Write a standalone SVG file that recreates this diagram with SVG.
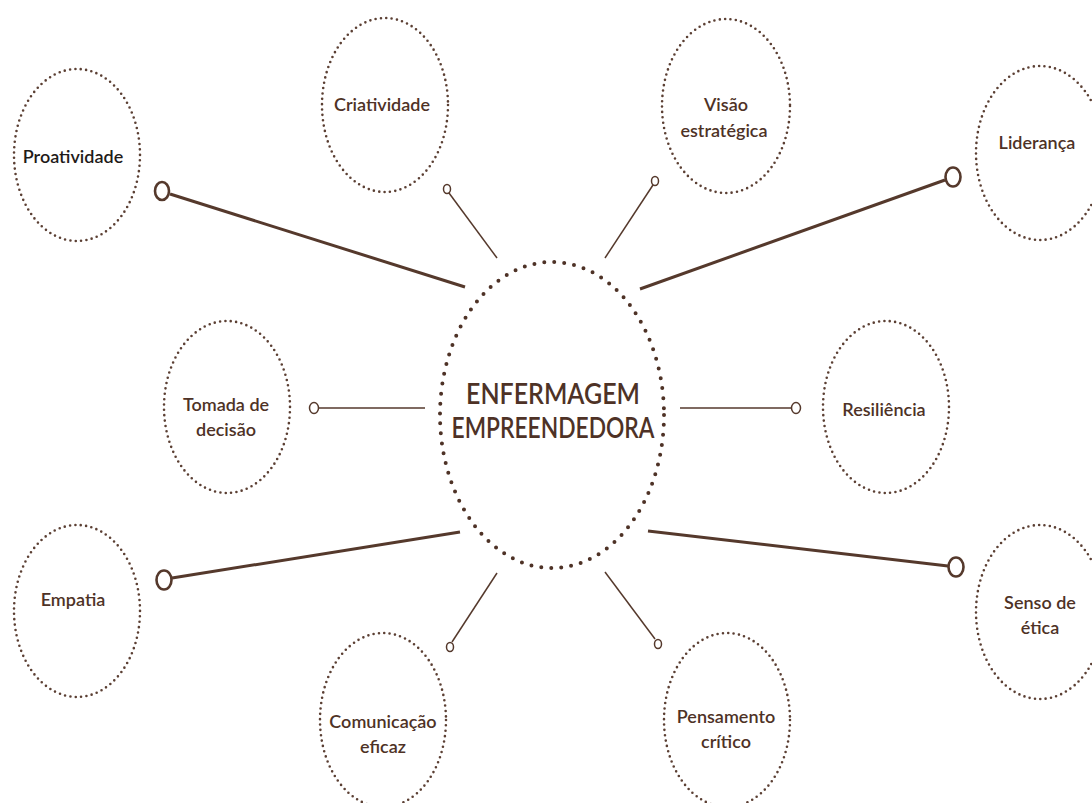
<svg xmlns="http://www.w3.org/2000/svg" width="1092" height="803" viewBox="0 0 1092 803">
<style>
.bg{fill:#ffffff}
.node{fill:none;stroke:#5b3f33;stroke-width:2.6;stroke-linecap:round;stroke-dasharray:0 5.4}
.hub{fill:none;stroke:#4e3226;stroke-width:4;stroke-linecap:round;stroke-dasharray:0 10}
.lbl{font-family:Lato,"Noto Sans",sans-serif;font-size:18px;font-weight:600;fill:#4e3226;text-anchor:middle}
.dark{fill:#1f1b19}
.hubt{font-family:Lato,"Noto Sans",sans-serif;font-size:29px;font-weight:600;fill:#4e3226;text-anchor:middle}
.thick{stroke:#55392c;stroke-width:3;fill:none}
.thin{stroke:#55392c;stroke-width:1.5;fill:none}
.endb{fill:#ffffff;stroke:#55392c;stroke-width:2.6}
.ends{fill:#ffffff;stroke:#55392c;stroke-width:1.5}
</style>
<rect class="bg" x="0" y="0" width="1092" height="803"/>
<g id="connectors">
<line class="thick" x1="170" y1="194" x2="465" y2="287"/>
<ellipse class="endb" cx="162" cy="191" rx="7" ry="9"/>
<line class="thin" x1="449" y1="193" x2="497" y2="258"/>
<ellipse class="ends" cx="447" cy="189" rx="3.5" ry="4.5"/>
<line class="thin" x1="653" y1="185" x2="605" y2="258"/>
<ellipse class="ends" cx="655" cy="181" rx="3.5" ry="4.5"/>
<line class="thick" x1="945" y1="180" x2="640" y2="289"/>
<ellipse class="endb" cx="953" cy="177" rx="7.5" ry="9.5"/>
<line class="thin" x1="318" y1="408" x2="425" y2="408"/>
<ellipse class="ends" cx="314" cy="408" rx="4.5" ry="5.5"/>
<line class="thin" x1="680" y1="408" x2="792" y2="408"/>
<ellipse class="ends" cx="796" cy="408" rx="4.5" ry="5.5"/>
<line class="thick" x1="172" y1="578" x2="460" y2="532"/>
<ellipse class="endb" cx="164" cy="580" rx="7.5" ry="9.5"/>
<line class="thick" x1="648" y1="531" x2="948" y2="566"/>
<ellipse class="endb" cx="956" cy="567" rx="7.5" ry="9.5"/>
<line class="thin" x1="452" y1="642" x2="497" y2="573"/>
<ellipse class="ends" cx="450" cy="647" rx="3.5" ry="4.5"/>
<line class="thin" x1="605" y1="572" x2="655" y2="639"/>
<ellipse class="ends" cx="658" cy="644" rx="3.5" ry="4.5"/>
</g>
<g id="hub">
<ellipse class="hub" cx="552" cy="415" rx="112" ry="153"/>
<text class="hubt" x="553" y="404" textLength="174" lengthAdjust="spacingAndGlyphs">ENFERMAGEM</text>
<text class="hubt" x="553" y="438" textLength="203" lengthAdjust="spacingAndGlyphs">EMPREENDEDORA</text>
</g>
<g id="proatividade">
<ellipse class="node" cx="77" cy="155" rx="63" ry="86"/>
<text class="lbl dark" x="73" y="163">Proatividade</text>
</g>
<g id="criatividade">
<ellipse class="node" cx="385" cy="105" rx="63" ry="87"/>
<text class="lbl" x="382" y="111">Criatividade</text>
</g>
<g id="visao">
<ellipse class="node" cx="726" cy="106" rx="64" ry="87"/>
<text class="lbl" x="726" y="111">Visão</text>
<text class="lbl" x="724" y="137">estratégica</text>
</g>
<g id="lideranca">
<ellipse class="node" cx="1040" cy="153" rx="64" ry="87"/>
<text class="lbl" x="1037" y="149">Liderança</text>
</g>
<g id="tomada">
<ellipse class="node" cx="227" cy="407" rx="63" ry="86"/>
<text class="lbl" x="226" y="411">Tomada de</text>
<text class="lbl" x="226" y="436">decisão</text>
</g>
<g id="resiliencia">
<ellipse class="node" cx="886" cy="407" rx="63" ry="86"/>
<text class="lbl" x="884" y="416">Resiliência</text>
</g>
<g id="empatia">
<ellipse class="node" cx="77" cy="611" rx="63" ry="86"/>
<text class="lbl" x="73" y="606">Empatia</text>
</g>
<g id="senso">
<ellipse class="node" cx="1040" cy="612" rx="64" ry="87"/>
<text class="lbl" x="1040" y="609">Senso de</text>
<text class="lbl" x="1040" y="634">ética</text>
</g>
<g id="comunicacao">
<ellipse class="node" cx="383" cy="720" rx="63" ry="87"/>
<text class="lbl" x="383" y="728">Comunicação</text>
<text class="lbl" x="383" y="753">eficaz</text>
</g>
<g id="pensamento">
<ellipse class="node" cx="727" cy="720" rx="63" ry="87"/>
<text class="lbl" x="726" y="723">Pensamento</text>
<text class="lbl" x="726" y="748">crítico</text>
</g>
</svg>
